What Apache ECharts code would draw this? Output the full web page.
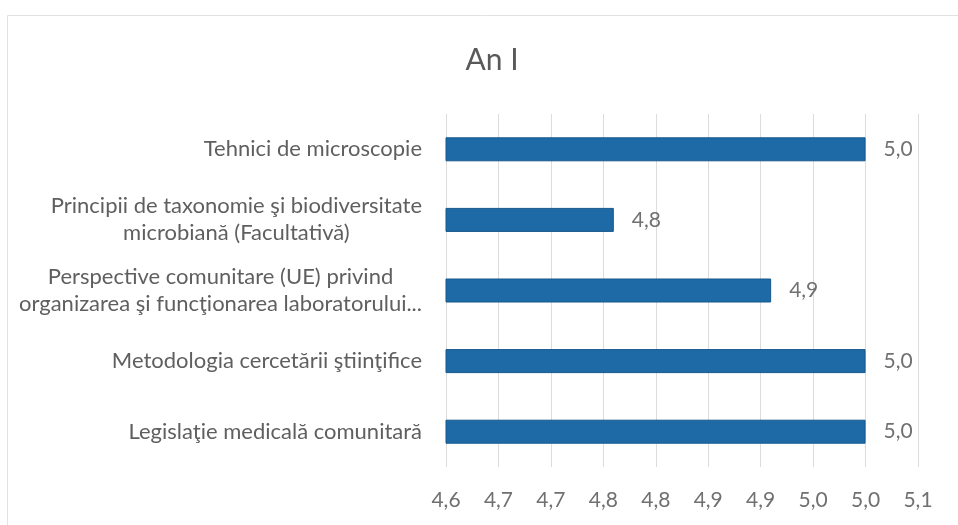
<!DOCTYPE html>
<html>
<head>
<meta charset="utf-8">
<script src="https://cdn.jsdelivr.net/npm/echarts@6/dist/echarts.min.js"></script>
<style>html,body{margin:0;padding:0;background:#fff;}#c{width:958px;height:525px;}</style>
</head>
<body>
<div id="c"></div>
<script>
const titleText = 'An I';
const categories = [
  'Tehnici de microscopie',
  'Principii de taxonomie şi biodiversitate\nmicrobiană (Facultativă)',
  'Perspective comunitare (UE) privind\norganizarea şi funcţionarea laboratorului...',
  'Metodologia cercetării ştiinţifice',
  'Legislaţie medicală comunitară'
];
const values = [5.0, 4.76, 4.91, 5.0, 5.0];
const axisMin = 4.6;
const axisMax = 5.05;
const axisStep = 0.05;

function fmt(v) {
  return (Math.round(v * 10 + 1e-6) / 10).toFixed(1).replace('.', ',');
}

const chart = echarts.init(document.getElementById('c'), null, {renderer: 'canvas'});
chart.setOption({
  animation: false,
  backgroundColor: '#ffffff',
  textStyle: {fontFamily: 'Lato'},
  graphic: [{
    type: 'rect',
    shape: {x: 7.5, y: 15.5, width: 980, height: 540},
    style: {fill: 'none', stroke: '#e2e2e2', lineWidth: 1},
    silent: true
  }],
  title: {
    text: titleText,
    left: 487,
    top: 40,
    textAlign: 'center',
    textStyle: {fontFamily: 'Lato', fontSize: 30, fontWeight: 'normal', color: '#595959'}
  },
  grid: {left: 446, right: 40, top: 114, bottom: 58, containLabel: false},
  xAxis: {
    type: 'value',
    min: axisMin,
    max: axisMax,
    interval: axisStep,
    axisLine: {show: false},
    axisTick: {show: false},
    splitLine: {show: true, lineStyle: {color: '#dcdcdc', width: 1}},
    axisLabel: {
      formatter: fmt,
      color: '#707070',
      fontSize: 21,
      fontFamily: 'Lato',
      margin: 23
    }
  },
  yAxis: {
    type: 'category',
    data: categories,
    inverse: true,
    axisLine: {show: false},
    axisTick: {show: false},
    splitLine: {show: false},
    axisLabel: {
      color: '#5f5f5f',
      fontSize: 22,
      fontFamily: 'Lato',
      margin: 24,
      align: 'right',
      formatter: v => v.split('\n').map(s => '{c|' + s + '}').join('\n'),
      rich: {
        c: {align: 'center', fontSize: 22, fontFamily: 'Lato', color: '#5f5f5f', lineHeight: 27}
      }
    }
  },
  series: [{
    type: 'bar',
    data: values,
    barWidth: 24,
    itemStyle: {color: '#1d6aa6', borderColor: '#17588c', borderWidth: 1},
    label: {
      show: true,
      position: 'right',
      distance: 18,
      formatter: p => fmt(p.value),
      color: '#707070',
      fontSize: 21,
      fontFamily: 'Lato'
    }
  }]
});
</script>
</body>
</html>
